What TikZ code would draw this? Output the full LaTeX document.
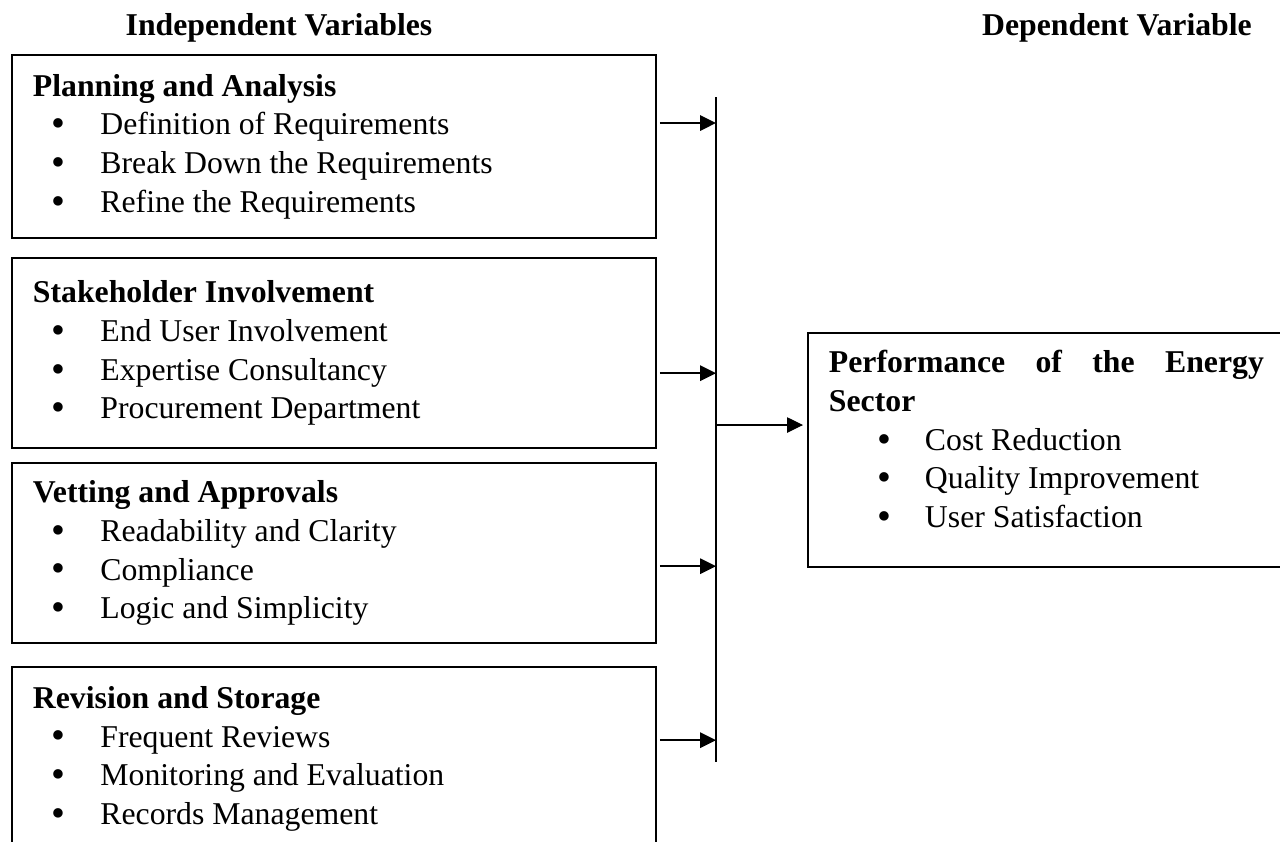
\documentclass[tikz,border=0pt]{standalone}
\usepackage{fontspec}
\setmainfont{Liberation Serif}
\usetikzlibrary{arrows.meta, positioning, calc}

\newcommand{\dotmark}{\raisebox{-0.7pt}{\fontsize{15pt}{0pt}\selectfont\textbullet}}
\newcommand{\bul}[1]{\makebox[25.5pt][l]{\hspace{7pt}\dotmark}#1}
\newcommand{\bulr}[1]{\makebox[36.3pt][l]{\hspace{18.2pt}\dotmark}#1}

\begin{document}
\begin{tikzpicture}[
    x=0.378pt, y=-0.378pt,
    font=\fontsize{12pt}{14.6pt}\selectfont,
    varbox/.style={rectangle, draw, line width=0.8pt, text width=227.5pt, inner xsep=7.9pt, inner ysep=0pt, minimum height=69.2pt,
        execute at begin node={\spaceskip=0.25em plus 0.1em\relax}},
    depbox/.style={rectangle, draw, line width=0.8pt, text width=164.4pt, inner xsep=7.9pt, inner ysep=0pt, minimum height=88.5pt,
        execute at begin node={\spaceskip=0.25em plus 0.1em\relax}},
    title/.style={font=\fontsize{12pt}{14.6pt}\selectfont\bfseries},
    line/.style={draw, line width=0.75pt, -{Triangle[length=6pt, width=5.8pt]}},
    bus/.style={draw, line width=0.6pt}
]
\path[use as bounding box, clip] (0,0) rectangle (1280,841);

% Column titles
\node[title] (indep) at (279,28) {Independent Variables};
\node[title] (dep) at (1117,28) {Dependent Variable};

% Independent variables
\node[varbox, anchor=north west] (plan) at (11,54) {\textbf{Planning and Analysis}\\
    \bul{Definition of Requirements}\\
    \bul{Break Down the Requirements}\\
    \bul{Refine the Requirements}};
\node[varbox, below=6.8pt of plan, minimum height=71.8pt] (stake) {\textbf{Stakeholder Involvement}\\
    \bul{End User Involvement}\\
    \bul{Expertise Consultancy}\\
    \bul{Procurement Department}};
\node[varbox, below=4.9pt of stake, minimum height=68pt] (vet) {\textbf{Vetting and Approvals}\\
    \bul{Readability and Clarity}\\
    \bul{Compliance}\\
    \bul{Logic and Simplicity}};
\node[varbox, below=8.3pt of vet] (revise) {\textbf{Revision and Storage}\\
    \bul{Frequent Reviews}\\
    \bul{Monitoring and Evaluation}\\
    \bul{Records Management}};

% Dependent variable
\node[depbox, anchor=north west] (perf) at (807,332) {\makebox[164.4pt][s]{\textbf{Performance\hfill of\hfill the\hfill Energy}}\\
    \textbf{Sector}\\
    \bulr{Cost Reduction}\\
    \bulr{Quality Improvement}\\
    \bulr{User Satisfaction\rule[-8.4pt]{0pt}{0pt}}};

% Collecting line
\coordinate (bustop) at (716,97);
\coordinate (busend) at (716,762);
\path[bus] (bustop) -- (busend);

% Arrows into the collecting line
\coordinate (in1) at ($(plan.north east)+(3,69)$);
\coordinate (in2) at ($(stake.north east)+(3,116)$);
\coordinate (in3) at ($(vet.north east)+(3,104)$);
\coordinate (in4) at ($(revise.north east)+(3,74)$);
\path[line] (in1) -- (in1 -| bustop);
\path[line] (in2) -- (in2 -| bustop);
\path[line] (in3) -- (in3 -| bustop);
\path[line] (in4) -- (in4 -| bustop);

% Arrow to the dependent variable
\coordinate (out) at ($(perf.north west)+(-4,93)$);
\path[line, line width=0.4pt] (out -| bustop) -- (out);

\end{tikzpicture}
\end{document}
